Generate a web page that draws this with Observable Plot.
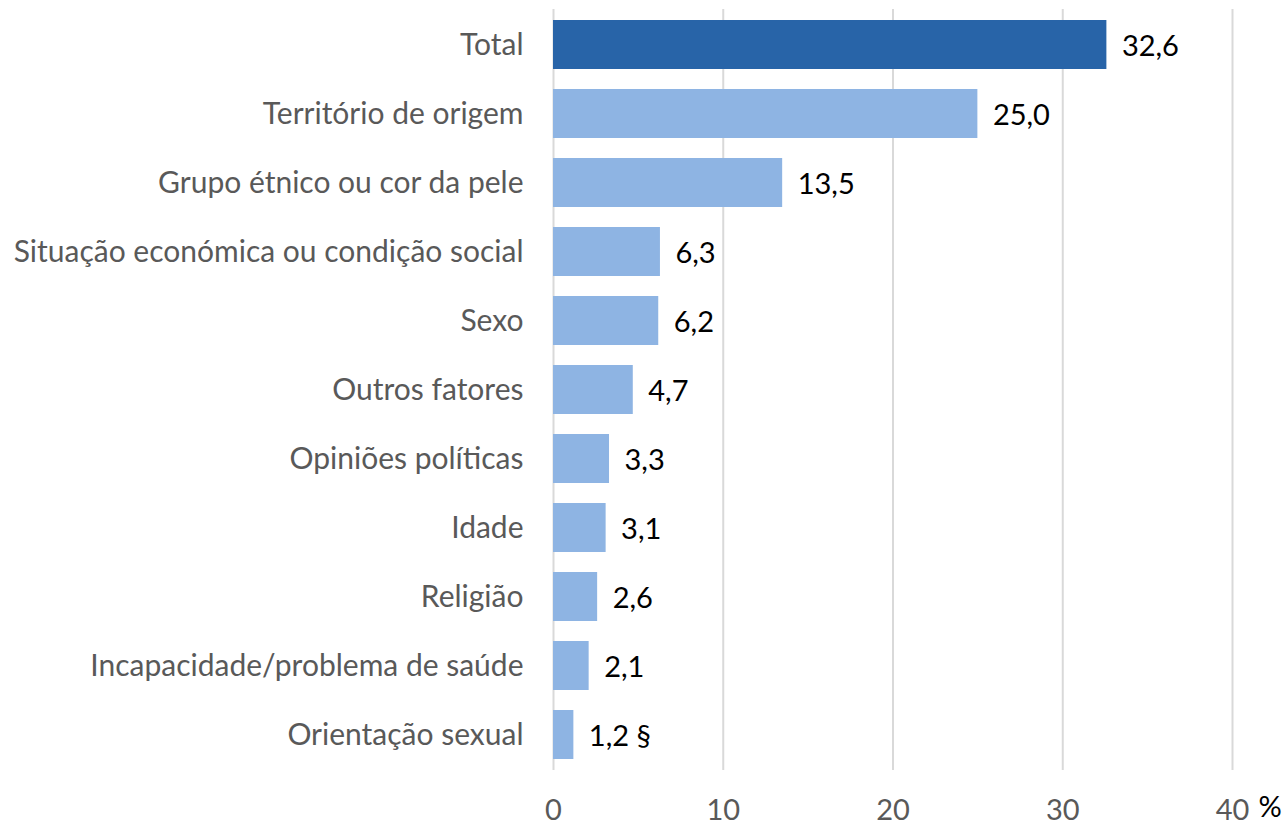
<!DOCTYPE html>
<html><head><meta charset="utf-8">
<script src="https://cdn.jsdelivr.net/npm/d3@7"></script>
<script src="https://cdn.jsdelivr.net/npm/@observablehq/plot@0.6"></script>
<style>
body{margin:0;background:#fff;}
#chart{position:relative;width:1287px;height:825px;}
</style>
</head><body><div id="chart"></div>
<script>
const categories = ["Total","Território de origem","Grupo étnico ou cor da pele","Situação económica ou condição social","Sexo","Outros fatores","Opiniões políticas","Idade","Religião","Incapacidade/problema de saúde","Orientação sexual"];
const values = [32.6,25.0,13.5,6.3,6.2,4.7,3.3,3.1,2.6,2.1,1.2];
const valueLabels = ["32,6","25,0","13,5","6,3","6,2","4,7","3,3","3,1","2,6","2,1","1,2 §"];
const xTicks = [0,10,20,30,40];
const unitLabel = "%";

const data = categories.map((c,i)=>({cat:c, v:values[i], lab:valueLabels[i], total:i===0}));
const font = "Lato, 'Open Sans', sans-serif";

const chart = Plot.plot({
  width:1287, height:825,
  marginLeft:553, marginRight:55, marginTop:9, marginBottom:55,
  style:{fontFamily:font, background:"#fff"},
  x:{domain:[0,40], ticks:xTicks, label:null},
  y:{domain:categories, paddingInner:0.29, paddingOuter:0.145, label:null},
  marks:[
    Plot.ruleX(xTicks,{stroke:"#d9d9d9", strokeWidth:2}),
    Plot.barX(data,{y:"cat", x:"v", fill:d=>d.total?"#2864a8":"#8eb4e3"}),
    Plot.text(data,{y:"cat", x:"v", text:"lab", textAnchor:"start", dx:15, dy:2, fill:"#000", fontSize:29}),
    Plot.axisY({tickSize:0, tickPadding:30, fontSize:30, color:"#595959", textAnchor:"end", label:null}),
    Plot.axisX(xTicks,{tickSize:0, tickPadding:29, fontSize:29, color:"#595959", label:null, anchor:"bottom"}),
    Plot.text([unitLabel],{x:()=>40, frameAnchor:"bottom", textAnchor:"start", dx:26, dy:46, fontSize:29, fill:"#000", text:d=>d})
  ]
});
document.getElementById("chart").appendChild(chart);
</script>
</body></html>
